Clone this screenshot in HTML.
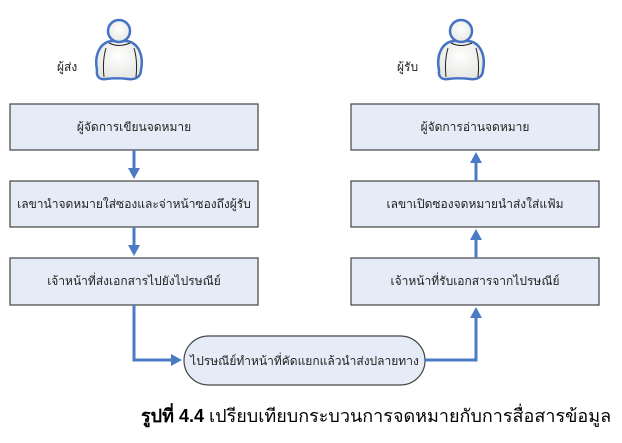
<!DOCTYPE html>
<html><head><meta charset="utf-8"><style>
body{margin:0;width:622px;height:443px;background:#fff;position:relative;overflow:hidden;font-family:"Liberation Sans","Noto Sans CJK SC",sans-serif}
.t{position:absolute;font-size:12px;color:#222;white-space:nowrap;font-family:"Liberation Sans","Noto Sans CJK SC",sans-serif}
</style></head><body>
<svg width="622" height="443" style="position:absolute;left:0;top:0">
<defs>
<radialGradient id="g" cx="50%" cy="40%" r="60%"><stop offset="0" stop-color="#fff"/><stop offset="1" stop-color="#e6e6e2"/></radialGradient>
<marker id="a" markerWidth="12" markerHeight="12" refX="2" refY="6" orient="auto" markerUnits="userSpaceOnUse"><path d="M0,0 L11,6 L0,12 z" fill="#4a7bc4"/></marker>
</defs>
<g id="p">
<path d="M97,70 C94,55 100,42 112,41 L126,41 C138,42 144,55 141,70 C141,77 135,80 128,79 C120,78 114,78 106,79 C100,80 96,77 97,70 Z" fill="url(#g)" stroke="#4472c4" stroke-width="2.5"/>
<path d="M106,48 C103,58 103,68 104,77 M134,48 C137,58 137,68 136,77 M109,43 Q119,48 130,43" fill="none" stroke="#222" stroke-width="1"/>
<circle cx="119" cy="31" r="11" fill="url(#g)" stroke="#4472c4" stroke-width="2.5"/>
</g>
<use href="#p" x="342"/>
<g fill="#e6ecf7" stroke="#444" stroke-width="1.2">
<rect x="10" y="104" width="248" height="46"/>
<rect x="10" y="181" width="248" height="46"/>
<rect x="10" y="258" width="248" height="47"/>
<rect x="351" y="104" width="248" height="46"/>
<rect x="351" y="181" width="248" height="46"/>
<rect x="351" y="258" width="248" height="47"/>
<rect x="184" y="336" width="241" height="49" rx="24.5"/>
</g>
<g stroke="#4a7bc4" stroke-width="3" fill="none" marker-end="url(#a)">
<path d="M134,150 L134,170"/>
<path d="M134,227 L134,247"/>
<path d="M134,305 L134,360 L173,360"/>
<path d="M425,360 L476,360 L476,316"/>
<path d="M476,258 L476,238"/>
<path d="M476,181 L476,161"/>
</g>
</svg>
<div class="t" style="left:57px;top:58px">ผู้ส่ง</div>
<div class="t" style="left:397px;top:58px">ผู้รับ</div>
<div class="t" style="left:10px;width:248px;text-align:center;top:118px">ผู้จัดการเขียนจดหมาย</div>
<div class="t" style="left:10px;width:248px;text-align:center;top:195px">เลขานำจดหมายใส่ซองและจ่าหน้าซองถึงผู้รับ</div>
<div class="t" style="left:10px;width:248px;text-align:center;top:272px">เจ้าหน้าที่ส่งเอกสารไปยังไปรษณีย์</div>
<div class="t" style="left:351px;width:248px;text-align:center;top:118px">ผู้จัดการอ่านจดหมาย</div>
<div class="t" style="left:351px;width:248px;text-align:center;top:195px">เลขาเปิดซองจดหมายนำส่งใส่แฟ้ม</div>
<div class="t" style="left:351px;width:248px;text-align:center;top:272px">เจ้าหน้าที่รับเอกสารจากไปรษณีย์</div>
<div class="t" style="left:184px;width:241px;text-align:center;top:352px">ไปรษณีย์ทำหน้าที่คัดแยกแล้วนำส่งปลายทาง</div>
<div class="t" style="left:141px;top:401px;font-size:18px;color:#000"><b>รูปที่ 4.4</b> เปรียบเทียบกระบวนการจดหมายกับการสื่อสารข้อมูล</div>
</body></html>
